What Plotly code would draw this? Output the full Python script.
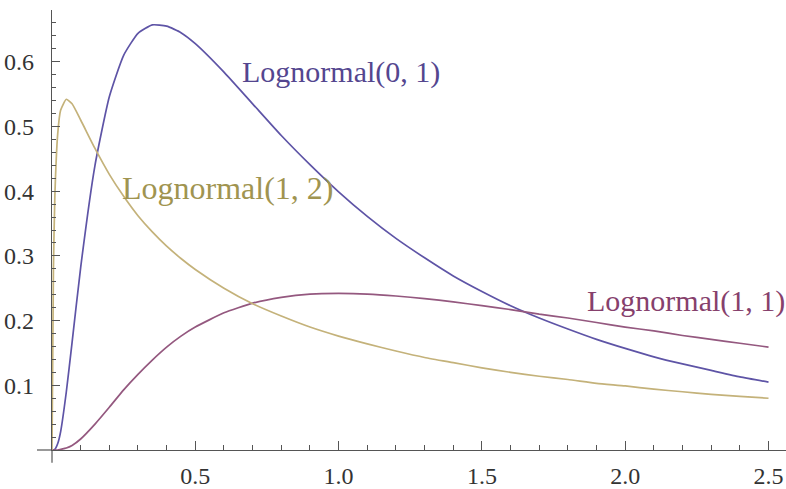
import plotly.graph_objects as go

# Sample positions along x
x_vals = [0, 0.005, 0.01, 0.02, 0.03, 0.05, 0.07, 0.1, 0.15, 0.2, 0.25, 0.3, 0.35,
          0.4, 0.45, 0.5, 0.6, 0.7, 0.8, 0.9, 1.0, 1.1, 1.2, 1.3, 1.4, 1.5, 1.6,
          1.7, 1.8, 1.9, 2.0, 2.1, 2.2, 2.3, 2.4, 2.5]

# Density values for each curve
lognormal_0_1 = [0.0, 0.0, 0.001, 0.010, 0.028, 0.090, 0.166, 0.282, 0.440, 0.546,
                 0.610, 0.644, 0.657, 0.655, 0.645, 0.628, 0.584, 0.535, 0.486,
                 0.441, 0.399, 0.361, 0.327, 0.297, 0.269, 0.245, 0.223, 0.204,
                 0.187, 0.171, 0.157, 0.144, 0.133, 0.123, 0.113, 0.105]
lognormal_1_1 = [0.0, 0.0, 0.0, 0.0, 0.001, 0.003, 0.007, 0.017, 0.040, 0.066,
                 0.093, 0.117, 0.139, 0.159, 0.176, 0.190, 0.212, 0.227, 0.236,
                 0.241, 0.242, 0.241, 0.238, 0.234, 0.229, 0.223, 0.217, 0.210,
                 0.204, 0.197, 0.190, 0.184, 0.177, 0.171, 0.165, 0.159]
lognormal_1_2 = [0.0, 0.281, 0.393, 0.489, 0.525, 0.542, 0.535, 0.510, 0.466, 0.426,
                 0.392, 0.362, 0.337, 0.315, 0.296, 0.279, 0.250, 0.226, 0.207,
                 0.190, 0.176, 0.164, 0.153, 0.143, 0.135, 0.127, 0.120, 0.114,
                 0.109, 0.103, 0.099, 0.094, 0.090, 0.086, 0.083, 0.080]

series_names = ["Lognormal(0, 1)", "Lognormal(1, 1)", "Lognormal(1, 2)"]
line_colors = ["#5e54a6", "#94587f", "#c4b27a"]
label_colors = ["#54468f", "#86406c", "#a09450"]

# Label anchor positions (left edge, vertical middle) in data units
label_x = [0.656, 1.860, 0.237]
label_y = [0.584, 0.231, 0.405]
label_sizes = [30, 30, 32]

x_ticks = [0.5, 1.0, 1.5, 2.0, 2.5]
x_tick_text = ["0.5", "1.0", "1.5", "2.0", "2.5"]
y_ticks = [0.1, 0.2, 0.3, 0.4, 0.5, 0.6]
y_tick_text = ["0.1", "0.2", "0.3", "0.4", "0.5", "0.6"]

W, H = 786, 489
ML, MR, MT, MB = 52, 0, 10, 34
axis_color = "#555555"
serif = "'Liberation Serif', Tinos, 'Times New Roman', Times, 'DejaVu Serif', serif"

fig = go.Figure()
for name, ys, col in zip(series_names, [lognormal_0_1, lognormal_1_1, lognormal_1_2], line_colors):
    fig.add_trace(go.Scatter(x=x_vals, y=ys, mode="lines", name=name,
                             line=dict(color=col, width=1.7, shape="spline", smoothing=0.5),
                             hoverinfo="skip"))

for name, lx, ly, sz, col in zip(series_names, label_x, label_y, label_sizes, label_colors):
    fig.add_annotation(x=lx, y=ly, xref="x", yref="y", text=name, showarrow=False,
                       xanchor="left", yanchor="middle",
                       font=dict(family=serif, size=sz, color=col))

plot_w = W - ML - MR
plot_h = H - MT - MB
# axis line stubs beyond the origin
fig.add_shape(type="line", xref="paper", yref="paper", x0=-15 / plot_w, x1=0, y0=0, y1=0,
              line=dict(color=axis_color, width=1.2))
fig.add_shape(type="line", xref="paper", yref="paper", x0=0, x1=0, y0=-13 / plot_h, y1=0,
              line=dict(color=axis_color, width=1.2))

fig.update_layout(
    width=W, height=H,
    margin=dict(l=ML, r=MR, t=MT, b=MB, pad=0),
    paper_bgcolor="white", plot_bgcolor="white",
    showlegend=False,
    font=dict(family=serif, size=24, color="#333333"),
    xaxis=dict(range=[0, 2.561], showgrid=False, zeroline=False,
               showline=True, linecolor=axis_color, linewidth=1.2,
               tickmode="array", tickvals=x_ticks, ticktext=x_tick_text,
               tickfont=dict(family=serif, size=24, color="#333333"),
               ticks="inside", ticklen=9, tickwidth=1.2, tickcolor=axis_color,
               ticklabelstandoff=4,
               minor=dict(tickmode="linear", tick0=0, dtick=0.1, ticks="inside",
                          ticklen=5, tickwidth=1, tickcolor=axis_color, showgrid=False)),
    yaxis=dict(range=[0, 0.68], showgrid=False, zeroline=False,
               showline=True, linecolor=axis_color, linewidth=1.2,
               tickmode="array", tickvals=y_ticks, ticktext=y_tick_text,
               tickfont=dict(family=serif, size=24, color="#333333"),
               ticks="inside", ticklen=8, tickwidth=1.2, tickcolor=axis_color,
               ticklabelstandoff=12,
               minor=dict(tickmode="linear", tick0=0, dtick=0.02, ticks="inside",
                          ticklen=4, tickwidth=1, tickcolor=axis_color, showgrid=False)),
)

fig.write_html("out.html")
